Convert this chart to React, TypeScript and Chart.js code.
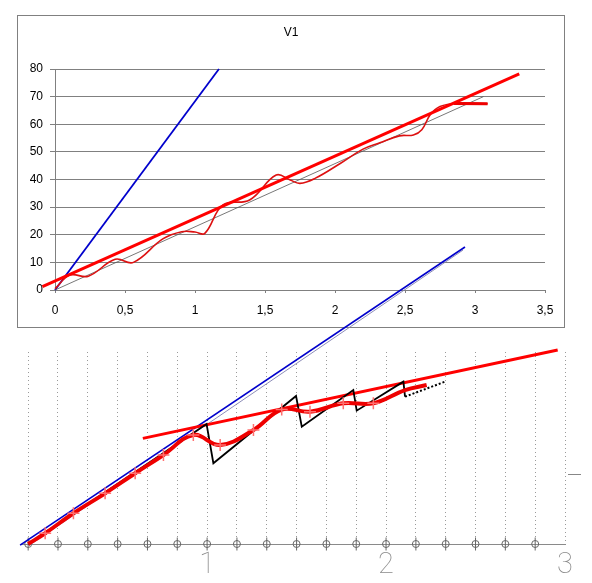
import React, { useEffect, useRef } from 'react';
import { Chart, registerables } from 'chart.js';

Chart.register(...registerables);

const SANS = "'Liberation Sans', Arial, sans-serif";

// ---------- top chart (V1) ----------
const topTitle = 'V1';
const topXTicks = [0, 0.5, 1, 1.5, 2, 2.5, 3, 3.5];
const topYTicks = [0, 10, 20, 30, 40, 50, 60, 70, 80];
const topSteepLine = [
  { x: 0, y: 0 },
  { x: 1.171, y: 80 },
];
const topTrendLine = [
  { x: -0.09, y: 1.2 },
  { x: 3.316, y: 78.2 },
];
const topThinLine = [
  { x: 0, y: 0 },
  { x: 3.06, y: 70 },
];
const topMeasured = [
  { x: 0, y: 0.5 },
  { x: 0.107, y: 5.4 },
  { x: 0.238, y: 5.0 },
  { x: 0.43, y: 11.1 },
  { x: 0.56, y: 10.0 },
  { x: 0.77, y: 18.5 },
  { x: 0.905, y: 21.1 },
  { x: 1.0, y: 21.0 },
  { x: 1.07, y: 20.5 },
  { x: 1.2, y: 30.8 },
  { x: 1.39, y: 32.6 },
  { x: 1.58, y: 41.6 },
  { x: 1.68, y: 39.8 },
  { x: 1.75, y: 38.6 },
  { x: 1.857, y: 40.4 },
  { x: 2.04, y: 45.9 },
  { x: 2.2, y: 51.0 },
  { x: 2.32, y: 53.3 },
  { x: 2.46, y: 55.8 },
  { x: 2.56, y: 56.1 },
  { x: 2.62, y: 58.0 },
  { x: 2.68, y: 63.4 },
  { x: 2.75, y: 66.4 },
  { x: 2.87, y: 67.6 },
  { x: 3.09, y: 67.4 },
];
const topMeasuredTail = [
  { x: 2.85, y: 67.5 },
  { x: 3.09, y: 67.4 },
];

// ---------- bottom chart ----------
const bottomTicks = [
  0, 1 / 6, 2 / 6, 3 / 6, 4 / 6, 5 / 6, 1, 7 / 6, 8 / 6, 9 / 6, 10 / 6, 11 / 6, 2,
  13 / 6, 14 / 6, 15 / 6, 16 / 6, 17 / 6, 3,
];
const bottomTickLabels = [
  '', '', '', '', '', '', '1', '', '', '', '', '', '2', '', '', '', '', '', '3',
];
const bottomHubs = [
  0, 1 / 6, 2 / 6, 3 / 6, 4 / 6, 5 / 6, 1, 7 / 6, 8 / 6, 9 / 6, 10 / 6, 11 / 6, 2,
  13 / 6, 14 / 6, 15 / 6, 16 / 6, 17 / 6,
];
const bottomBlueLine = [
  { x: -0.045, y: -0.006 },
  { x: 2.441, y: 1.659 },
];
const bottomShadowLine = [
  { x: 0, y: -0.012 },
  { x: 2.43, y: 1.642 },
];
const bottomSawtooth = [
  { x: 0, y: 0 },
  { x: 0.997, y: 0.67 },
  { x: 1.035, y: 0.451 },
  { x: 1.497, y: 0.827 },
  { x: 1.529, y: 0.655 },
  { x: 1.817, y: 0.86 },
  { x: 1.836, y: 0.745 },
  { x: 2.097, y: 0.907 },
  { x: 2.106, y: 0.823 },
];
const bottomSawtoothDotted = [
  { x: 2.106, y: 0.823 },
  { x: 2.33, y: 0.907 },
];
const bottomTrendLine = [
  { x: 0.641, y: 0.59 },
  { x: 2.959, y: 1.084 },
];
const bottomCurve = [
  { x: 0, y: 0 },
  { x: 0.095, y: 0.06 },
  { x: 0.253, y: 0.172 },
  { x: 0.43, y: 0.283 },
  { x: 0.598, y: 0.395 },
  { x: 0.756, y: 0.497 },
  { x: 0.923, y: 0.609 },
  { x: 1.073, y: 0.553 },
  { x: 1.259, y: 0.637 },
  { x: 1.417, y: 0.751 },
  { x: 1.575, y: 0.739 },
  { x: 1.761, y: 0.786 },
  { x: 1.929, y: 0.786 },
  { x: 2.106, y: 0.86 },
  { x: 2.227, y: 0.888 },
];
const bottomMarkers = [
  { x: 0.095, y: 0.06 },
  { x: 0.253, y: 0.172 },
  { x: 0.43, y: 0.283 },
  { x: 0.598, y: 0.395 },
  { x: 0.756, y: 0.497 },
  { x: 0.923, y: 0.609 },
  { x: 1.073, y: 0.553 },
  { x: 1.259, y: 0.637 },
  { x: 1.417, y: 0.751 },
  { x: 1.575, y: 0.739 },
  { x: 1.761, y: 0.786 },
  { x: 1.929, y: 0.786 },
];
const bottomRightTick = [0.391];
const bottomRightLabel = ['—'];

const lineDs = (data: any[], color: string, width: number, extra: any = {}) => ({
  type: 'line',
  data,
  borderColor: color,
  backgroundColor: color,
  borderWidth: width,
  pointRadius: 0,
  tension: 0,
  fill: false,
  clip: false,
  ...extra,
});

export default function App() {
  const topRef = useRef<HTMLCanvasElement>(null);
  const botRef = useRef<HTMLCanvasElement>(null);

  useEffect(() => {
    const top = new Chart(topRef.current as HTMLCanvasElement, {
      type: 'line',
      data: {
        datasets: [
          lineDs(topTrendLine, '#ff0000', 3),
          lineDs(topMeasuredTail, '#ee0000', 3),
          lineDs(topMeasured, '#dd1111', 1.6, { tension: 0.4 }),
          lineDs(topThinLine, '#555555', 0.8),
          lineDs(topSteepLine, '#0000cc', 1.8),
        ] as any,
      },
      options: {
        animation: false,
        responsive: false,
        devicePixelRatio: 1,
        events: [],
        layout: { padding: 0 },
        plugins: {
          legend: { display: false },
          tooltip: { enabled: false },
          title: {
            display: true,
            text: topTitle,
            color: '#000000',
            font: { family: SANS, size: 12, weight: 'normal' },
            padding: { top: 10, bottom: 29.6 },
          },
        },
        scales: {
          x: {
            type: 'linear',
            min: 0,
            max: 3.5,
            afterBuildTicks: (s: any) => {
              s.ticks = topXTicks.map((v) => ({ value: v }));
            },
            afterFit: (s: any) => {
              s.height = 38;
            },
            ticks: {
              color: '#000000',
              font: { family: SANS, size: 12 },
              padding: 10,
              maxRotation: 0,
              autoSkip: false,
              callback: (v: any) => String(v).replace('.', ','),
            },
            grid: { drawOnChartArea: false, drawTicks: true, tickLength: 3, color: '#808080' },
            border: { display: true, color: '#808080' },
          },
          y: {
            type: 'linear',
            min: 0,
            max: 80,
            afterBuildTicks: (s: any) => {
              s.ticks = topYTicks.map((v) => ({ value: v }));
            },
            afterFit: (s: any) => {
              s.width = 38;
            },
            ticks: {
              color: '#000000',
              font: { family: SANS, size: 12 },
              padding: 7,
              autoSkip: false,
            },
            grid: { color: '#808080', tickLength: 5, lineWidth: 1 },
            border: { display: true, color: '#808080' },
          },
          yRight: {
            type: 'linear',
            position: 'right',
            min: 0,
            max: 80,
            afterFit: (s: any) => {
              s.width = 20;
            },
            ticks: { display: false },
            grid: { display: false, drawTicks: false },
            border: { display: false },
          },
        },
      } as any,
    });

    const bot = new Chart(botRef.current as HTMLCanvasElement, {
      type: 'line',
      data: {
        datasets: [
          lineDs(bottomMarkers, '#ff7070', 1.5, {
            showLine: false,
            pointRadius: 6,
            pointStyle: 'cross',
            pointBorderWidth: 1.5,
          }),
          lineDs(bottomCurve, '#ee0000', 4, { tension: 0.4 }),
          lineDs(bottomSawtooth, '#000000', 1.8),
          lineDs(bottomSawtoothDotted, '#000000', 2, { borderDash: [2, 2] }),
          lineDs(bottomTrendLine, '#ff0000', 3),
          lineDs(bottomBlueLine, '#0000cc', 1.6),
          lineDs(bottomShadowLine, '#8080b0', 0.9),
          lineDs(
            bottomHubs.map((x) => ({ x, y: 0 })),
            '#666666',
            1,
            { showLine: false, pointRadius: 6.5, pointStyle: 'line', rotation: 90, pointBorderWidth: 1 }
          ),
          lineDs(
            bottomHubs.map((x) => ({ x, y: 0 })),
            '#666666',
            1,
            {
              showLine: false,
              pointRadius: 3.5,
              pointStyle: 'circle',
              pointBackgroundColor: 'rgba(0,0,0,0)',
              backgroundColor: 'rgba(0,0,0,0)',
              pointBorderWidth: 1,
            }
          ),
        ] as any,
      },
      options: {
        animation: false,
        responsive: false,
        devicePixelRatio: 1,
        events: [],
        layout: { padding: { left: 21, right: 0, top: 352, bottom: 0 } },
        plugins: { legend: { display: false }, tooltip: { enabled: false }, title: { display: false } },
        scales: {
          x: {
            type: 'linear',
            min: -0.04,
            max: 3,
            afterBuildTicks: (s: any) => {
              s.ticks = bottomTicks.map((v) => ({ value: v }));
            },
            afterFit: (s: any) => {
              s.height = 39;
            },
            ticks: {
              autoSkip: false,
              maxRotation: 0,
              color: '#8a8a8a',
              font: { family: 'Roboto, DejaVu Sans, sans-serif', size: 29, weight: 100, lineHeight: 1 },
              padding: 7,
              callback: (_v: any, i: number) => bottomTickLabels[i] ?? '',
            },
            grid: { color: '#9a9a9a', lineWidth: 1, drawTicks: false },
            border: { display: true, color: '#8a8a8a', dash: [1, 3] },
          },
          y: { type: 'linear', display: false, min: 0, max: 1.0726 },
          y2: {
            type: 'linear',
            position: 'right',
            min: 0,
            max: 1.0726,
            afterBuildTicks: (s: any) => {
              s.ticks = bottomRightTick.map((v) => ({ value: v }));
            },
            afterFit: (s: any) => {
              s.width = 27;
            },
            ticks: {
              color: '#777777',
              font: { family: SANS, size: 13 },
              padding: 3,
              callback: (_v: any, i: number) => bottomRightLabel[i] ?? '',
            },
            grid: { display: false, drawTicks: false },
            border: { display: false },
          },
        },
      } as any,
    });

    return () => {
      top.destroy();
      bot.destroy();
    };
  }, []);

  return (
    <div style={{ position: 'absolute', left: 0, top: 0, width: 592, height: 583, background: '#ffffff', overflow: 'hidden' }}>
      <div
        style={{
          position: 'absolute',
          left: 17,
          top: 15,
          width: 548,
          height: 313,
          boxSizing: 'border-box',
          border: '1px solid #808080',
        }}
      />
      <canvas ref={topRef} width={548} height={313} style={{ position: 'absolute', left: 17, top: 15 }} />
      <canvas ref={botRef} width={592} height={583} style={{ position: 'absolute', left: 0, top: 0 }} />
    </div>
  );
}
